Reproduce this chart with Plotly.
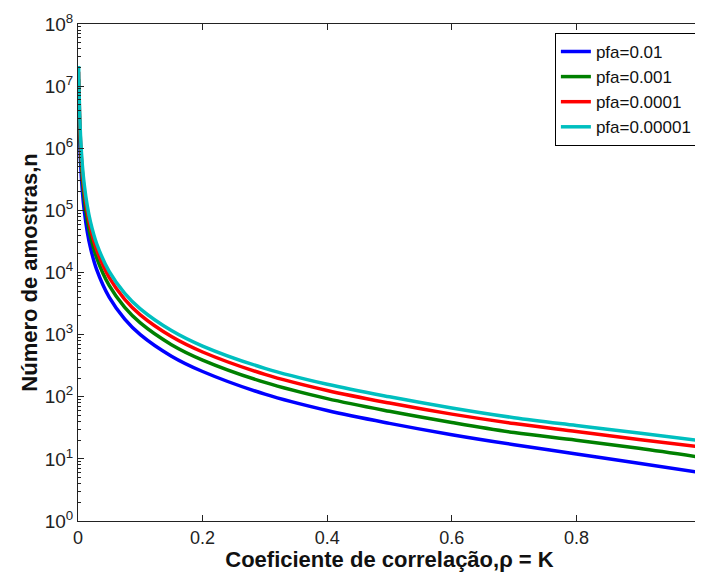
import plotly.graph_objects as go

rho = [0.001, 0.002, 0.004, 0.007, 0.01, 0.015, 0.02, 0.03, 0.05, 0.075, 0.1,
       0.15, 0.2, 0.3, 0.4, 0.5, 0.6, 0.7, 0.8, 0.9, 1.0]

n_pfa_001 = [0.85e7, 2.51e6, 6.27e5, 2.05e5, 1.00e5, 4.46e4, 2.51e4, 1.11e4, 4010, 1780, 1000,
             450, 255, 110, 60.0, 37.3, 24.5, 16.9, 12.0, 8.5, 6.0]
n_pfa_0001 = [1.30e7, 3.86e6, 9.66e5, 3.16e5, 1.55e5, 6.87e4, 3.86e4, 1.72e4, 6180, 2745, 1542,
              690, 390, 170, 93.2, 58.3, 38.5, 26.5, 20.0, 14.8, 10.6]
n_pfa_00001 = [1.70e7, 5.20e6, 1.30e6, 4.25e5, 2.08e5, 9.24e4, 5.20e4, 2.31e4, 8316, 3694, 2076,
               930, 525, 229, 126, 79.1, 52.5, 37.0, 27.5, 20.5, 15.5]
n_pfa_000001 = [2.10e7, 6.52e6, 1.63e6, 5.32e5, 2.61e5, 1.16e5, 6.52e4, 2.90e4, 10430, 4632, 2603,
                1165, 655, 287, 159, 99.8, 66.0, 46.0, 34.5, 26.2, 19.6]

series = [
    ("pfa=0.01", n_pfa_001, "#0000FF"),
    ("pfa=0.001", n_pfa_0001, "#008000"),
    ("pfa=0.0001", n_pfa_00001, "#FF0000"),
    ("pfa=0.00001", n_pfa_000001, "#00BFBF"),
]

y_tickvals = [1, 10, 100, 1e3, 1e4, 1e5, 1e6, 1e7, 1e8]
y_ticktext = ["10<sup>%d</sup>" % i for i in range(9)]
x_tickvals = [0, 0.2, 0.4, 0.6, 0.8, 1.0]
x_ticktext = ["0", "0.2", "0.4", "0.6", "0.8", "1"]

fig = go.Figure()
for name, vals, color in series:
    fig.add_trace(go.Scatter(x=rho, y=vals, mode="lines", name=name,
                             line=dict(color=color, width=3.5, shape="spline")))

font_family = "Liberation Sans, Arial, sans-serif"
# page body has an 8px margin: figure occupies 8..703 x 8..572
fig.update_layout(
    width=695, height=564,
    margin=dict(l=70, r=2, t=16, b=51),
    paper_bgcolor="white", plot_bgcolor="white",
    font=dict(family=font_family, size=18, color="#222222"),
    showlegend=True,
    legend=dict(x=0.995, xanchor="right", y=0.982, yanchor="top",
                bordercolor="black", borderwidth=1, bgcolor="white",
                font=dict(size=17, color="#111111"), tracegroupgap=0),
    xaxis=dict(range=[0, 1], tickvals=x_tickvals, ticktext=x_ticktext,
               ticks="inside", ticklen=6, tickcolor="#222222",
               showline=True, linecolor="#222222", linewidth=1, mirror="ticks",
               showgrid=False, zeroline=False, automargin=False,
               tickfont=dict(size=18),
               title=dict(text="<b>Coeficiente de correlação,ρ = K</b>",
                          font=dict(size=22, color="#111111"), standoff=0)),
    yaxis=dict(type="log", range=[0, 8], tickvals=y_tickvals, ticktext=y_ticktext,
               ticks="inside", ticklen=6, tickcolor="#222222",
               showline=True, linecolor="#222222", linewidth=1, mirror="ticks",
               showgrid=False, zeroline=False, automargin=False,
               tickfont=dict(size=19),
               minor=dict(ticks="inside", ticklen=3, tickcolor="#222222", dtick="D1",
                          showgrid=False),
               title=dict(text="<b>Número de amostras,n</b>",
                          font=dict(size=22, color="#111111"), standoff=0)),
)

fig.write_html("out.html")
